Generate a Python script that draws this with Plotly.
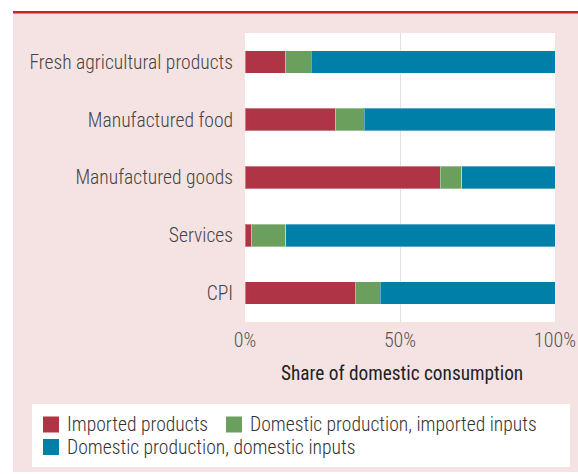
import plotly.graph_objects as go

categories = ["Fresh agricultural products", "Manufactured food", "Manufactured goods", "Services", "CPI"]
imported_products = [13.1, 29.3, 63.0, 2.2, 35.5]
domestic_imported_inputs = [8.3, 9.2, 6.9, 10.9, 8.2]
domestic_domestic_inputs = [78.6, 61.5, 30.1, 86.9, 56.3]
series_names = ["Imported products", "Domestic production, imported inputs", "Domestic production, domestic inputs"]
series_colors = ["#AF3546", "#6A9F5E", "#0080A8"]
x_ticks = [0, 50, 100]
x_tick_labels = ["0%", "50%", "100%"]

FONT = "Roboto Condensed, Arial Narrow, Liberation Sans Narrow, Roboto, sans-serif"
WEIGHT = 300
W, H = 578, 474
L, R, T, B = 245, 23, 33, 152
PW, PH = W - L - R, H - T - B


def px(xp):
    return (xp - L) / PW


def py(yp):
    return (H - B - yp) / PH


fig = go.Figure()
for name, vals, col in zip(series_names, [imported_products, domestic_imported_inputs, domestic_domestic_inputs], series_colors):
    fig.add_trace(go.Bar(
        y=categories, x=vals, name=name, orientation="h",
        marker=dict(color=col, line=dict(color="rgba(255,255,255,0.35)", width=1)),
        width=0.39, showlegend=False, hoverinfo="skip",
    ))

shapes = [
    dict(type="rect", xref="paper", yref="paper", x0=px(13), x1=px(590), y0=py(472), y1=py(12),
         fillcolor="#F4E3E2", line=dict(width=0), layer="below"),
    dict(type="rect", xref="paper", yref="paper", x0=0, x1=1, y0=0, y1=1,
         fillcolor="white", line=dict(width=0), layer="below"),
    dict(type="line", xref="paper", yref="paper", x0=px(13), x1=px(590), y0=py(12.2), y1=py(12.2),
         line=dict(color="#C8232C", width=2.5)),
    dict(type="rect", xref="paper", yref="paper", x0=px(32), x1=px(570), y0=py(467), y1=py(404),
         fillcolor="white", line=dict(width=0)),
]

legend_items = [
    (series_names[0], series_colors[0], 43, 424.5),
    (series_names[1], series_colors[1], 226, 424.5),
    (series_names[2], series_colors[2], 43, 447),
]
annotations = []
for name, col, x0, yc in legend_items:
    shapes.append(dict(type="rect", xref="paper", yref="paper", x0=px(x0), x1=px(x0 + 16),
                       y0=py(yc + 8), y1=py(yc - 8), fillcolor=col, line=dict(width=0)))
    annotations.append(dict(text=name, xref="paper", yref="paper", x=px(x0 + 22), y=py(yc),
                            xanchor="left", yanchor="middle", showarrow=False,
                            font=dict(family=FONT, size=19.6, color="#333333", weight=WEIGHT)))

annotations.append(dict(text="Share of domestic consumption", xref="paper", yref="paper",
                        x=px(401.5), y=py(373), xanchor="center", yanchor="middle", showarrow=False,
                        font=dict(family=FONT, size=19.3, color="#222222")))

fig.update_layout(
    width=W, height=H,
    margin=dict(l=L, r=R, t=T, b=B, pad=0),
    paper_bgcolor="white", plot_bgcolor="rgba(0,0,0,0)",
    barmode="stack",
    shapes=shapes, annotations=annotations,
    font=dict(family=FONT, size=19, color="#444444"),
)
fig.update_xaxes(range=[0, 100], tickvals=x_ticks, ticktext=x_tick_labels,
                 showgrid=True, gridcolor="#E0E0E0", gridwidth=1, zeroline=False,
                 ticks="outside", ticklen=0, tickcolor="rgba(0,0,0,0)", automargin=False,
                 ticklabeloverflow="allow",
                 tickfont=dict(family=FONT, size=20, color="#555555", weight=WEIGHT), fixedrange=True)
fig.update_yaxes(categoryorder="array", categoryarray=categories, autorange="reversed",
                 showgrid=False, zeroline=False, automargin=False, fixedrange=True,
                 ticklabeloverflow="allow",
                 ticks="outside", ticklen=7, tickcolor="rgba(0,0,0,0)",
                 tickfont=dict(family=FONT, size=19.6, color="#444444", weight=WEIGHT))

fig.write_html("out.html", config={"displayModeBar": False},
               post_script="document.body.style.margin='0';document.body.style.overflow='hidden';")
